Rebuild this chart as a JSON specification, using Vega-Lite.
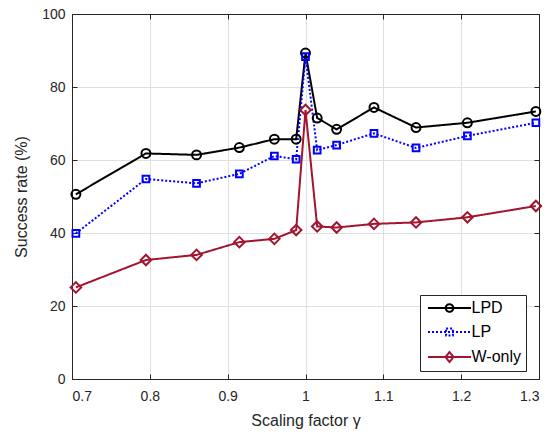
{
  "$schema": "https://vega.github.io/schema/vega-lite/v6.json",
  "width": 467,
  "height": 365,
  "autosize": "none",
  "padding": {"left": 72, "top": 14, "right": 14, "bottom": 57},
  "background": "white",
  "config": {
    "font": "Liberation Sans",
    "view": {"stroke": "#262626", "strokeWidth": 1},
    "axis": {
      "labelFont": "Liberation Sans",
      "titleFont": "Liberation Sans",
      "labelColor": "#262626",
      "titleColor": "#262626",
      "labelFontSize": 14,
      "titleFontSize": 16,
      "titleFontWeight": "normal",
      "domainColor": "#262626",
      "tickColor": "#262626",
      "gridColor": "#e0e0e0",
      "gridWidth": 1
    }
  },
  "data": {
    "values": [
      {"gamma": 0.705, "rate": 50.6, "series": "LPD"},
      {"gamma": 0.795, "rate": 61.8, "series": "LPD"},
      {"gamma": 0.86, "rate": 61.4, "series": "LPD"},
      {"gamma": 0.915, "rate": 63.4, "series": "LPD"},
      {"gamma": 0.96, "rate": 65.7, "series": "LPD"},
      {"gamma": 0.988, "rate": 65.7, "series": "LPD"},
      {"gamma": 1.0, "rate": 89.3, "series": "LPD"},
      {"gamma": 1.015, "rate": 71.5, "series": "LPD"},
      {"gamma": 1.04, "rate": 68.4, "series": "LPD"},
      {"gamma": 1.088, "rate": 74.4, "series": "LPD"},
      {"gamma": 1.142, "rate": 68.9, "series": "LPD"},
      {"gamma": 1.208, "rate": 70.2, "series": "LPD"},
      {"gamma": 1.296, "rate": 73.3, "series": "LPD"},
      {"gamma": 0.705, "rate": 39.9, "series": "LP"},
      {"gamma": 0.795, "rate": 54.8, "series": "LP"},
      {"gamma": 0.86, "rate": 53.6, "series": "LP"},
      {"gamma": 0.915, "rate": 56.2, "series": "LP"},
      {"gamma": 0.96, "rate": 61.1, "series": "LP"},
      {"gamma": 0.988, "rate": 60.2, "series": "LP"},
      {"gamma": 1.0, "rate": 88.3, "series": "LP"},
      {"gamma": 1.015, "rate": 62.7, "series": "LP"},
      {"gamma": 1.04, "rate": 64.1, "series": "LP"},
      {"gamma": 1.088, "rate": 67.3, "series": "LP"},
      {"gamma": 1.142, "rate": 63.3, "series": "LP"},
      {"gamma": 1.208, "rate": 66.6, "series": "LP"},
      {"gamma": 1.296, "rate": 70.2, "series": "LP"},
      {"gamma": 0.705, "rate": 25.1, "series": "W-only"},
      {"gamma": 0.795, "rate": 32.6, "series": "W-only"},
      {"gamma": 0.86, "rate": 34.0, "series": "W-only"},
      {"gamma": 0.915, "rate": 37.5, "series": "W-only"},
      {"gamma": 0.96, "rate": 38.4, "series": "W-only"},
      {"gamma": 0.988, "rate": 40.8, "series": "W-only"},
      {"gamma": 1.0, "rate": 73.7, "series": "W-only"},
      {"gamma": 1.015, "rate": 41.8, "series": "W-only"},
      {"gamma": 1.04, "rate": 41.5, "series": "W-only"},
      {"gamma": 1.088, "rate": 42.5, "series": "W-only"},
      {"gamma": 1.142, "rate": 42.9, "series": "W-only"},
      {"gamma": 1.208, "rate": 44.3, "series": "W-only"},
      {"gamma": 1.296, "rate": 47.4, "series": "W-only"}
    ]
  },
  "layer": [
    {
      "encoding": {
        "x": {
          "field": "gamma", "type": "quantitative",
          "scale": {"domain": [0.7, 1.3], "nice": false, "zero": false},
          "axis": {"values": [0.7, 0.8, 0.9, 1.0, 1.1, 1.2, 1.3], "format": "~g", "title": "Scaling factor γ", "tickSize": -5, "labelPadding": 15, "titlePadding": 9}
        },
        "y": {
          "field": "rate", "type": "quantitative",
          "scale": {"domain": [0, 100], "nice": false},
          "axis": {"values": [0, 20, 40, 60, 80, 100], "title": "Success rate (%)", "tickSize": -5, "labelPadding": 12, "titlePadding": 12}
        },
        "color": {
          "field": "series", "type": "nominal",
          "scale": {"domain": ["LPD", "LP", "W-only"], "range": ["#000000", "#0000ff", "#a2142f"]},
          "legend": {
            "orient": "none", "legendX": 348, "legendY": 281,
            "title": null,
            "fillColor": "white", "strokeColor": "#262626", "padding": 5,
            "labelFont": "Liberation Sans", "labelFontSize": 16, "labelColor": "#000000",
            "symbolSize": 64, "rowPadding": 8, "symbolOffset": 16.5, "labelOffset": 14,
            "encode": {
              "symbols": {
                "update": {
                  "shape": {"signal": "datum.value === 'LPD' ? 'M-5.375,0H5.375M0.95,0A0.95,0.95,0,1,1,-0.95,0A0.95,0.95,0,1,1,0.95,0' : datum.value === 'LP' ? 'M-5.375,0H5.375M-0.85,-0.85H0.85V0.85H-0.85Z' : 'M-5.375,0H5.375M0,-1.25L1,0L0,1.25L-1,0Z'"},
                  "stroke": {"signal": "datum.value === 'LPD' ? '#000000' : datum.value === 'LP' ? '#0000ff' : '#a2142f'"},
                  "strokeDash": {"signal": "datum.value === 'LP' ? [2, 2] : [1, 0]"},
                  "fill": {"value": "transparent"},
                  "strokeWidth": {"value": 2},
                  "opacity": {"value": 1}
                }
              }
            }
          }
        }
      },
      "layer": [
        {
          "mark": {"type": "line", "strokeWidth": 2},
          "encoding": {
            "strokeDash": {
              "field": "series", "type": "nominal",
              "scale": {"domain": ["LPD", "LP", "W-only"], "range": [[1, 0], [2, 2], [1, 0]]}
            }
          }
        },
        {
          "transform": [{"filter": "datum.series === 'LPD'"}],
          "mark": {"type": "point", "shape": "circle", "filled": false, "strokeWidth": 2, "opacity": 1, "size": 80}
        },
        {
          "transform": [{"filter": "datum.series === 'LP'"}],
          "mark": {"type": "point", "shape": "square", "filled": false, "strokeWidth": 2, "opacity": 1, "size": 45}
        },
        {
          "transform": [{"filter": "datum.series === 'W-only'"}],
          "mark": {"type": "point", "shape": "diamond", "filled": false, "strokeWidth": 2, "opacity": 1, "size": 110}
        }
      ]
    },
    {
      "mark": {"type": "point", "opacity": 0},
      "encoding": {
        "x": {"field": "gamma", "type": "quantitative", "scale": {"domain": [0.7, 1.3], "nice": false, "zero": false}, "axis": {"orient": "top", "values": [0.7, 0.8, 0.9, 1.0, 1.1, 1.2, 1.3], "labels": false, "grid": false, "title": null, "tickSize": -5}},
        "y": {"field": "rate", "type": "quantitative", "scale": {"domain": [0, 100], "nice": false}, "axis": {"orient": "right", "values": [0, 20, 40, 60, 80, 100], "labels": false, "grid": false, "title": null, "tickSize": -5}}
      }
    }
  ],
  "resolve": {"axis": {"x": "independent", "y": "independent"}}
}
